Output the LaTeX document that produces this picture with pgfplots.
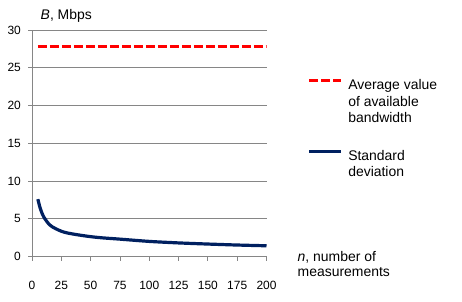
\documentclass[border=0pt]{standalone}
\usepackage{pgfplots}
\pgfplotsset{compat=1.18}
\usepackage{fontspec}
\setmainfont{Liberation Sans}
\definecolor{gridgray}{RGB}{134,134,134}
\definecolor{navy}{RGB}{0,32,96}
\definecolor{exred}{RGB}{255,0,0}
\newcommand{\ff}{\fontsize{14}{15.7}\selectfont}
\newcommand{\fl}{\fontsize{14}{16.5}\selectfont}
\newcommand{\ft}{\fontsize{12}{14}\selectfont}
\pgfplotsset{
  redleg/.style={legend image code/.code={\draw[##1,overlay] (0bp,21bp) -- (32bp,21bp); \path[draw=none,fill=none] (0bp,4.5bp) rectangle (32bp,4.5bp);}},
  blueleg/.style={legend image code/.code={\draw[##1,overlay] (0bp,12.75bp) -- (32bp,12.75bp); \path[draw=none,fill=none] (0bp,4.5bp) rectangle (32bp,4.5bp);}},
}
\begin{document}
\begin{tikzpicture}[x=1bp,y=1bp]
\useasboundingbox (0,0) rectangle (462,301);
\begin{axis}[
  at={(32bp,44.5bp)}, anchor=south west,
  scale only axis, width=234.5bp, height=226.5bp,
  xmin=0, xmax=200, ymin=0, ymax=30,
  xtick={0,25,...,200}, ytick={0,5,...,30},
  axis x line*=bottom, axis y line*=left,
  axis line style={gridgray, line width=0.8bp},
  tick style={gridgray, line width=0.8bp},
  tick align=outside, major tick length=4bp,
  ymajorgrids, grid style={gridgray, line width=0.8bp},
  /pgf/number format/assume math mode=true,
  tick label style={font=\ft, black, inner sep=0pt},
  xticklabel style={anchor=north},
  yticklabel style={anchor=east},
  xticklabel shift=20.6bp,
  yticklabel shift=7bp,
  legend style={draw=none, fill=none, at={(1.1815,0.782)}, anchor=north west,
    inner sep=0pt, column sep=7bp, row sep=26bp,
    nodes={inner sep=0pt, align=left, font=\fl}},
  legend cell align=left,
]
\addplot[exred, line width=3bp, dash pattern=on 8.7bp off 3.3bp, redleg]
  coordinates {(5,27.8) (200,27.8)};
\addlegendentry{Average value\\of available\\bandwidth}
\addplot[navy, line width=3.2bp, smooth, blueleg]
  coordinates {
(5,7.6) (7,6.4) (10,5.25) (15,4.2) (20,3.7) (25,3.35) (30,3.12) (40,2.85)
(50,2.63) (60,2.47) (75,2.3) (100,2.0) (125,1.8) (150,1.65) (175,1.52) (200,1.42)};
\addlegendentry{Standard\\deviation}
\end{axis}
\node[anchor=base west, inner sep=0pt, font=\ff] at (40.5,282) {\textit{B}, Mbps};
\node[anchor=base west, inner sep=0pt, font=\ff, align=left] at (297.5,24.3) {\textit{n}, number of\\measurements};
\end{tikzpicture}
\end{document}
